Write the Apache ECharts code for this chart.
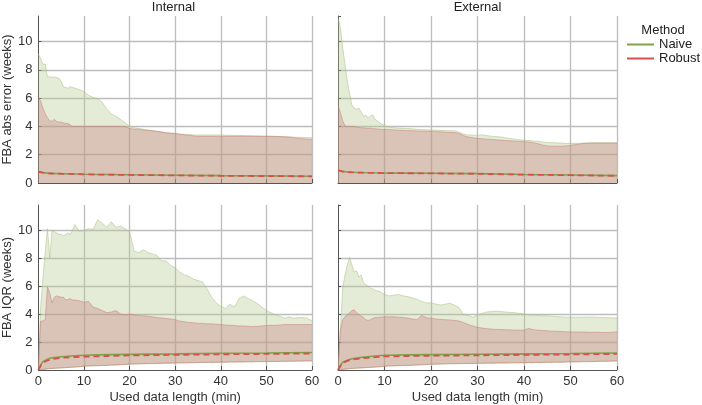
<!DOCTYPE html>
<html><head><meta charset="utf-8">
<script src="https://cdn.jsdelivr.net/npm/echarts@6/dist/echarts.min.js"></script>
<style>html,body{margin:0;padding:0;background:#fff}#c{width:702px;height:405px}</style>
</head><body><div id="c"></div>
<script>
// x positions (minutes) shared by all bands
const xs = [0,0.5,1,1.5,2,2.5,3,3.5,4,4.5,5,5.5,6,6.5,7,7.5,8,
  9,10,11,12,13,14,15,16,17,18,19,20,21,22,23,24,25,26,27,28,29,30,
  31,32,33,34,35,36,37,38,39,40,41,42,43,44,45,46,47,48,49,50,
  51,52,53,54,55,56,57,58,59,60];
// x positions for median lines
const medX = [0,0.5,1,2,3,5,8,10,15,20,30,40,50,60];

const panelTitles = ['Internal','External'];
const rowNames = ['FBA abs error (weeks)','FBA IQR (weeks)'];
const xName = 'Used data length (min)';
const methods = ['Naive','Robust'];

// ---- Internal, abs error ----
const tlNaiveUpper = [9.1,8.8,8.4,8.4,7.5,7.5,7.45,7.5,7.45,7.4,7.2,6.8,6.75,6.7,6.8,6.75,6.7,
  6.6,6.45,6.2,6.05,5.95,5.7,5.2,4.9,4.7,4.5,4.25,4.0,3.9,3.85,3.8,3.75,3.7,3.65,3.6,3.55,3.52,3.5,
  3.45,3.45,3.42,3.4,3.4,3.4,3.4,3.4,3.4,3.4,3.38,3.37,3.36,3.35,3.35,3.34,3.33,3.32,3.31,3.3,
  3.3,3.28,3.27,3.26,3.25,3.24,3.23,3.22,3.21,3.2];
const tlRobustUpper = [6.0,5.8,5.3,4.9,4.6,4.4,4.35,4.5,4.35,4.3,4.3,4.25,4.2,4.2,4.1,4.0,4.0,
  4.0,4.0,4.0,4.0,4.0,4.0,4.0,4.0,4.0,4.0,4.0,3.85,3.8,3.8,3.75,3.72,3.7,3.65,3.6,3.55,3.52,3.5,
  3.45,3.4,3.38,3.33,3.3,3.3,3.3,3.3,3.3,3.3,3.3,3.3,3.3,3.3,3.3,3.3,3.3,3.3,3.3,3.3,
  3.3,3.3,3.28,3.27,3.25,3.2,3.15,3.12,3.1,3.1];
const tlNaiveMed  = [0.8,0.77,0.74,0.7,0.68,0.66,0.64,0.62,0.6,0.58,0.55,0.52,0.5,0.48];
const tlRobustMed = [0.79,0.76,0.73,0.69,0.67,0.65,0.63,0.61,0.59,0.57,0.54,0.51,0.49,0.47];

// ---- External, abs error ----
const trNaiveUpper = [11.7,11.0,9.6,8.4,7.2,6.3,5.5,5.3,5.2,5.3,5.0,4.7,4.8,4.6,4.75,4.8,4.5,
  4.25,4.05,3.95,3.9,3.88,3.86,3.85,3.83,3.8,3.78,3.76,3.75,3.74,3.72,3.71,3.7,3.68,3.6,3.45,3.4,3.38,3.38,
  3.4,3.35,3.3,3.28,3.25,3.2,3.15,3.1,3.06,3.02,3.0,2.97,2.95,2.9,2.86,2.85,2.83,2.82,2.8,2.8,
  2.8,2.8,2.82,2.83,2.84,2.84,2.84,2.84,2.84,2.84];
const trRobustUpper = [5.5,5.0,4.4,4.05,4.0,4.0,4.0,3.98,3.95,3.93,3.9,3.9,3.88,3.86,3.88,3.85,3.83,
  3.8,3.78,3.78,3.75,3.73,3.72,3.7,3.7,3.68,3.67,3.66,3.65,3.63,3.62,3.6,3.58,3.56,3.52,3.35,3.25,3.2,3.15,
  3.12,3.1,3.08,3.05,3.02,3.0,2.98,2.96,2.94,2.92,2.9,2.85,2.78,2.68,2.62,2.6,2.6,2.6,2.62,2.65,
  2.72,2.76,2.8,2.82,2.82,2.82,2.82,2.82,2.82,2.82];
const trNaiveMed  = [0.9,0.86,0.82,0.78,0.76,0.74,0.72,0.71,0.7,0.69,0.66,0.6,0.56,0.52];
const trRobustMed = [0.89,0.85,0.81,0.77,0.75,0.73,0.71,0.7,0.69,0.68,0.65,0.59,0.55,0.51];

// ---- Internal, IQR ----
const blNaiveUpper = [0,4.5,6.5,8.5,10.1,8.0,10.0,9.9,9.8,9.7,9.7,9.6,9.7,9.8,9.7,10.0,10.4,
  9.9,10.0,10.1,10.05,10.75,10.5,10.2,10.6,10.2,10.3,10.1,9.9,8.5,8.4,8.6,8.4,8.3,8.2,7.8,7.8,7.5,7.3,
  7.0,6.8,6.7,6.5,6.4,6.3,5.8,5.2,4.8,4.55,4.4,4.7,4.5,5.1,5.3,5.1,4.95,4.75,4.5,4.25,
  4.1,3.95,3.85,3.7,3.8,3.7,3.75,3.75,3.7,3.5];
const blRobustUpper = [0,3.5,3.5,3.6,5.95,5.5,4.8,5.2,5.3,5.25,5.2,5.2,5.0,5.05,5.1,5.0,5.0,
  4.95,4.85,4.9,4.5,4.4,4.25,4.1,4.15,4.25,4.0,3.95,4.0,3.95,3.9,3.88,3.85,3.8,3.75,3.72,3.68,3.65,3.6,
  3.5,3.45,3.4,3.38,3.35,3.33,3.3,3.3,3.28,3.25,3.22,3.2,3.18,3.15,3.15,3.12,3.1,3.12,3.15,3.18,
  3.2,3.2,3.22,3.25,3.25,3.25,3.25,3.25,3.25,3.25];
const blLower = [0,0.02,0.04,0.06,0.08,0.1,0.11,0.12,0.13,0.14,0.15,0.16,0.17,0.18,0.19,0.2,0.21,
  0.24,0.27,0.29,0.3,0.31,0.32,0.33,0.35,0.36,0.38,0.4,0.42,0.43,0.44,0.45,0.46,0.46,0.47,0.48,0.49,0.49,0.5,
  0.51,0.51,0.52,0.52,0.53,0.54,0.54,0.55,0.55,0.56,0.56,0.57,0.57,0.58,0.58,0.59,0.59,0.6,0.6,0.6,
  0.61,0.61,0.62,0.62,0.63,0.63,0.64,0.64,0.65,0.65];
const blNaiveMed  = [0,0.35,0.6,0.78,0.87,0.95,1.02,1.06,1.1,1.12,1.15,1.2,1.22,1.25];
const blRobustMed = [0,0.3,0.52,0.68,0.78,0.87,0.93,0.95,1.0,1.04,1.08,1.12,1.15,1.18];

// ---- External, IQR ----
const brNaiveUpper = [0,2.8,5.8,6.8,7.5,8.05,7.5,7.0,7.1,6.65,6.8,6.2,6.1,6.0,5.85,5.8,5.7,
  5.6,5.4,5.3,5.35,5.4,5.3,5.25,5.15,5.05,4.9,4.8,4.8,4.72,4.65,4.7,4.78,4.65,4.47,3.95,3.9,3.77,3.95,
  4.05,4.15,4.18,4.2,4.18,4.15,4.12,4.1,4.05,4.0,3.95,3.92,3.9,3.88,3.88,3.85,3.82,3.8,3.78,3.77,
  3.77,3.77,3.78,3.78,3.78,3.76,3.75,3.74,3.73,3.72];
const brRobustUpper = [0,2.8,3.6,3.8,3.95,4.1,4.25,4.3,4.1,3.95,3.85,3.75,3.6,3.55,3.6,3.7,3.75,
  3.78,3.8,3.8,3.8,3.78,3.75,3.72,3.65,3.6,3.9,3.75,3.7,3.65,3.62,3.6,3.58,3.55,3.5,3.4,3.25,3.15,3.05,
  3.0,2.95,2.93,2.9,2.9,2.88,2.87,2.85,2.85,2.85,2.98,2.88,2.85,2.83,2.8,2.78,2.77,2.75,2.73,2.72,
  2.72,2.72,2.72,2.7,2.7,2.7,2.68,2.68,2.7,2.73];
const brLower = [0,0.02,0.04,0.06,0.08,0.1,0.11,0.12,0.13,0.14,0.15,0.16,0.17,0.18,0.19,0.2,0.21,
  0.24,0.27,0.29,0.3,0.31,0.32,0.33,0.34,0.36,0.37,0.39,0.41,0.42,0.43,0.44,0.45,0.45,0.46,0.46,0.47,0.47,0.48,
  0.48,0.49,0.49,0.5,0.5,0.5,0.51,0.51,0.52,0.52,0.53,0.53,0.54,0.54,0.55,0.55,0.56,0.56,0.57,0.58,
  0.58,0.59,0.6,0.6,0.61,0.62,0.62,0.63,0.64,0.65];
const brNaiveMed  = [0,0.3,0.55,0.7,0.8,0.9,1.0,1.05,1.08,1.1,1.13,1.15,1.18,1.22];
const brRobustMed = [0,0.28,0.5,0.65,0.75,0.83,0.92,0.97,1.0,1.02,1.05,1.08,1.11,1.15];

const panels = [
  {naiveUpper: tlNaiveUpper, robustUpper: tlRobustUpper, lower: null, naiveMed: tlNaiveMed, robustMed: tlRobustMed},
  {naiveUpper: trNaiveUpper, robustUpper: trRobustUpper, lower: null, naiveMed: trNaiveMed, robustMed: trRobustMed},
  {naiveUpper: blNaiveUpper, robustUpper: blRobustUpper, lower: blLower, naiveMed: blNaiveMed, robustMed: blRobustMed},
  {naiveUpper: brNaiveUpper, robustUpper: brRobustUpper, lower: brLower, naiveMed: brNaiveMed, robustMed: brRobustMed}
];

const FONT = 'Liberation Sans, Arial, sans-serif';
const naiveColor = '#7fa34a';
const robustColor = '#d6504f';
const naiveFill = 'rgba(180,200,140,0.36)';
const naiveEdge = 'rgba(165,190,125,0.55)';
const robustFill = 'rgba(200,125,128,0.36)';
const robustEdge = 'rgba(200,115,110,0.5)';

const gridRects = [
  {left: 35, top: 16, width: 277, height: 167},
  {left: 338, top: 16, width: 279, height: 167},
  {left: 35, top: 205, width: 277, height: 168},
  {left: 338, top: 205, width: 279, height: 168}
];

const xAxes = [], yAxes = [], series = [];

gridRects.forEach((r, gi) => {
  const bottom = gi >= 2, leftCol = gi % 2 === 0;
  xAxes.push({
    gridIndex: gi, type: 'value', min: 0, max: 60, interval: 10,
    axisLine: {show: true, onZero: false, lineStyle: {color: '#555', width: 1}},
    axisTick: {show: true, inside: true, length: 4, lineStyle: {color: '#555'}},
    axisLabel: {show: bottom, color: '#333', fontSize: 13, margin: 5, fontFamily: FONT},
    splitLine: {show: true, showMinLine: false, lineStyle: {color: '#bdbdbd', width: 1.3}},
    name: bottom ? xName : '', nameLocation: 'middle', nameGap: 21,
    nameTextStyle: {color: '#333', fontSize: 13, fontFamily: FONT}
  });
  yAxes.push({
    gridIndex: gi, type: 'value', min: 0, max: 11.8, interval: 2,
    axisLine: {show: true, onZero: false, lineStyle: {color: '#555', width: 1}},
    axisTick: {show: true, inside: true, length: 3, lineStyle: {color: '#555'}},
    axisLabel: {show: leftCol, showMaxLabel: false, color: '#333', fontSize: 13, margin: 6, fontFamily: FONT},
    splitLine: {show: true, showMaxLine: false, showMinLine: false, lineStyle: {color: '#bdbdbd', width: 1.3}},
    name: leftCol ? rowNames[bottom ? 1 : 0] : '', nameLocation: 'middle', nameGap: 16,
    nameTextStyle: {color: '#333', fontSize: 13, fontFamily: FONT}
  });
  const p = panels[gi];
  const band = (label, upper, fill, edge, z) => {
    series.push({
      type: 'custom', name: label, xAxisIndex: gi, yAxisIndex: gi, silent: true, z,
      data: [[0, 0]], clip: true,
      renderItem: (params, api) => {
        const top = xs.map((x, i) => api.coord([x, upper[i]]));
        const bot = xs.map((x, i) => api.coord([x, p.lower ? p.lower[i] : 0]));
        const poly = top.concat(bot.slice().reverse());
        const children = [
          {type: 'polygon', shape: {points: poly}, style: {fill, stroke: null}},
          {type: 'polyline', shape: {points: top}, style: {fill: null, stroke: edge, lineWidth: 0.9}}
        ];
        if (p.lower) children.push({type: 'polyline', shape: {points: bot}, style: {fill: null, stroke: edge, lineWidth: 0.9}});
        return {type: 'group', children};
      }
    });
  };
  band('Naive band', p.naiveUpper, naiveFill, naiveEdge, 2);
  band('Robust band', p.robustUpper, robustFill, robustEdge, 3);
  series.push({type: 'line', name: 'Naive', xAxisIndex: gi, yAxisIndex: gi, symbol: 'none', z: 5,
    data: medX.map((x, i) => [x, p.naiveMed[i]]), lineStyle: {color: naiveColor, width: 1.6}, itemStyle: {color: naiveColor}});
  series.push({type: 'line', name: 'Robust', xAxisIndex: gi, yAxisIndex: gi, symbol: 'none', z: 6,
    data: medX.map((x, i) => [x, p.robustMed[i]]), lineStyle: {color: robustColor, width: 1.8, type: [6, 4]}, itemStyle: {color: robustColor}});
});

const chart = echarts.init(document.getElementById('c'), null, {renderer: 'canvas'});
const tStyle = {fontSize: 13, fontWeight: 'normal', color: '#222', fontFamily: FONT};
chart.setOption({
  animation: false,
  backgroundColor: '#fff',
  title: [
    {text: panelTitles[0], left: 173.5, top: 1, padding: 0, textAlign: 'center', textStyle: tStyle},
    {text: panelTitles[1], left: 477.5, top: 1, padding: 0, textAlign: 'center', textStyle: tStyle},
    {text: 'Method', left: 663, top: 24, padding: 0, textAlign: 'center', textStyle: tStyle}
  ],
  legend: {
    data: methods, orient: 'vertical', left: 627, top: 38, padding: 0, itemWidth: 27, itemHeight: 2, itemGap: 1,
    icon: 'rect', selectedMode: false,
    textStyle: {fontSize: 13, color: '#222', fontFamily: FONT}
  },
  grid: gridRects, xAxis: xAxes, yAxis: yAxes, series
});
</script></body></html>
